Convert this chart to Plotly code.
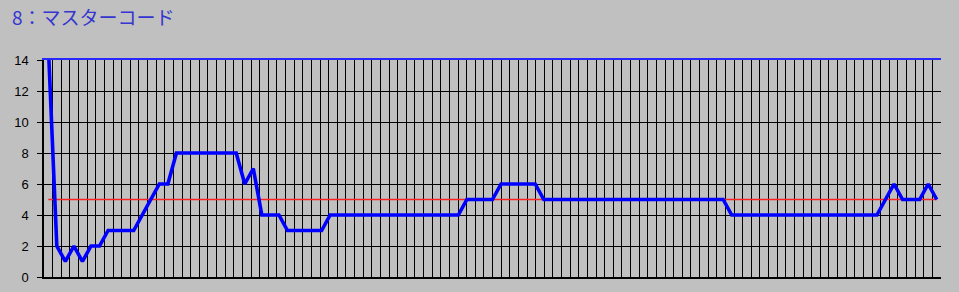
import plotly.graph_objects as go

TITLE = "8：マスターコード"

# one value per sample (105 samples); first one exceeds the axis max and is clipped
values = [15, 2, 1, 2, 1, 2, 2,
          3, 3, 3, 3,
          4, 5, 6, 6,
          8, 8, 8, 8, 8, 8, 8, 8,
          6, 7,
          4, 4, 4,
          3, 3, 3, 3, 3,
          4, 4, 4, 4, 4, 4, 4, 4, 4, 4, 4, 4, 4, 4, 4, 4,
          5, 5, 5, 5,
          6, 6, 6, 6, 6,
          5, 5, 5, 5, 5, 5, 5, 5, 5, 5, 5, 5, 5, 5, 5, 5, 5, 5, 5, 5, 5, 5,
          4, 4, 4, 4, 4, 4, 4, 4, 4, 4, 4, 4, 4, 4, 4, 4, 4, 4,
          5, 6, 5, 5, 5, 6, 5]
samples = list(range(len(values)))

THRESHOLD = 5
Y_MIN, Y_MAX = 0, 14
GRID_DIVISIONS = 104
y_ticks = [0, 2, 4, 6, 8, 10, 12, 14]

fig = go.Figure()

# threshold line drawn as a trace first so the data line sits over it
fig.add_trace(go.Scatter(
    x=[samples[0], samples[-1]], y=[THRESHOLD, THRESHOLD],
    mode="lines", line=dict(color="#FF2424", width=1.6),
    hoverinfo="skip", showlegend=False))

fig.add_trace(go.Scatter(
    x=samples, y=values, mode="lines",
    line=dict(color="#0000FF", width=3.6),
    showlegend=False))

# empty trace so the gridline axis is created
fig.add_trace(go.Scatter(x=[], y=[], xaxis="x2", yaxis="y", showlegend=False))

fig.update_layout(
    width=959, height=292,
    margin=dict(l=44, r=18, t=60, b=15, autoexpand=False),
    paper_bgcolor="#C0C0C0", plot_bgcolor="#C0C0C0",
    font=dict(family="Liberation Sans, Arial, sans-serif", size=13, color="#000000"),
    title=dict(text=TITLE, x=12 / 959, xanchor="left", xref="container",
               y=1 - 18 / 292, yanchor="middle",
               font=dict(family="Noto Sans CJK JP", size=19, color="#3535D0")),
    xaxis=dict(range=[samples[0] - 0.5, samples[-1] + 0.5], showgrid=False,
               showticklabels=False, ticks="", zeroline=False, automargin=False,
               showline=True, linecolor="#000000", linewidth=1.5),
    xaxis2=dict(overlaying="x", anchor="y", side="top",
                range=[0, GRID_DIVISIONS], tick0=0, dtick=1, automargin=False,
                showgrid=True, gridcolor="#000000", gridwidth=1.2,
                showticklabels=False, ticks="", zeroline=False,
                showline=True, linecolor="#2828FF", linewidth=2),
    yaxis=dict(range=[Y_MIN, Y_MAX], tickvals=y_ticks, showgrid=True,
               gridcolor="#000000", gridwidth=1.2, zeroline=False, automargin=False,
               ticks="outside", ticklen=5, tickcolor="#000000",
               ticklabelstandoff=6,
               showline=True, linecolor="#000000", linewidth=1.5, mirror=False),
    hovermode=False,
)

fig.write_html("out.html")
